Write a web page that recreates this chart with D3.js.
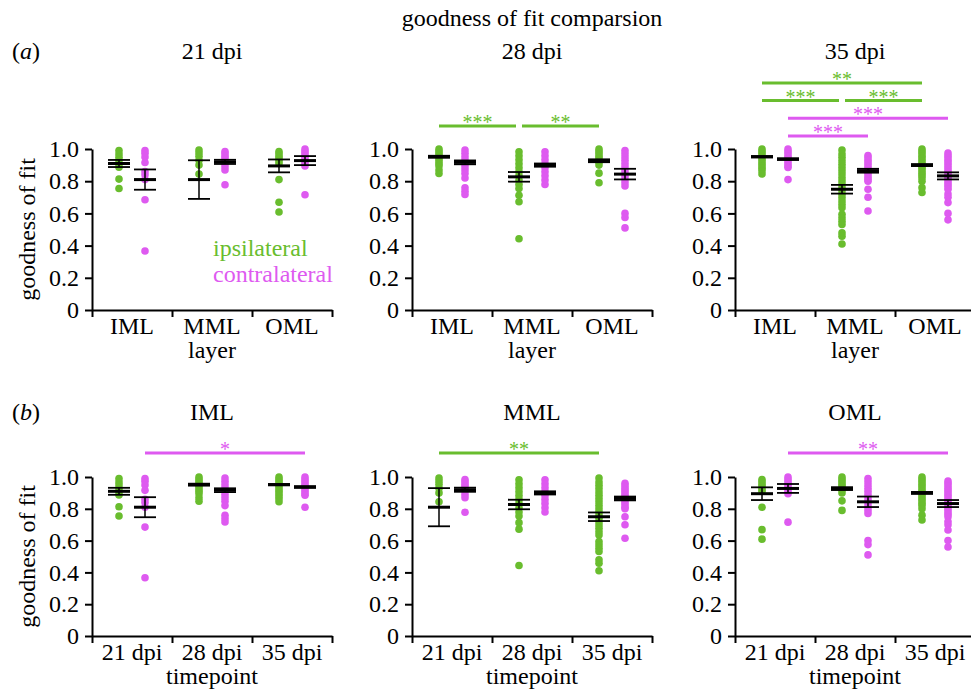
<!DOCTYPE html>
<html>
<head>
<meta charset="utf-8">
<script src="https://cdn.jsdelivr.net/npm/d3@7"></script>
<style>
	body { margin: 0; background: #fff; }
	svg { display: block; }
	svg text { font-family: 'Times New Roman', 'Liberation Serif', 'DejaVu Serif', Times, serif; }
	.axis path, .axis line { stroke: #000; stroke-width: 2; }
	.axis text { font-size: 24px; fill: #000; }
</style>
</head>
<body>
<svg id="chart" width="971" height="692"></svg>
<script>
const layers = ['IML', 'MML', 'OML']
const timepoints = ['21 dpi', '28 dpi', '35 dpi']
const yTicks = [0, 0.2, 0.4, 0.6, 0.8, 1.0]

// means and SEM, indexed [timepoint][layer]
const ipsiMean = [[0.91, 0.81, 0.895], [0.952, 0.827, 0.927], [0.952, 0.75, 0.90]]
const ipsiSem = [[0.022, 0.12, 0.04], [0.006, 0.03, 0.009], [0.004, 0.027, 0.006]]
const contraMean = [[0.81, 0.92, 0.928], [0.917, 0.90, 0.844], [0.937, 0.865, 0.833]]
const contraSem = [[0.063, 0.013, 0.028], [0.012, 0.01, 0.033], [0.005, 0.012, 0.022]]

// individual fits, indexed [timepoint][layer]
const ipsiPoints = [
	[
		[0.99, 0.969, 0.949, 0.928, 0.907, 0.887, 0.813, 0.755],
		[0.994, 0.975, 0.955, 0.93, 0.90, 0.844],
		[0.984, 0.97, 0.955, 0.94, 0.925, 0.91, 0.81, 0.669, 0.609]
	],
	[
		[1.0, 0.985, 0.97, 0.955, 0.94, 0.925, 0.91, 0.895, 0.87, 0.848],
		[0.983, 0.958, 0.933, 0.908, 0.884, 0.859, 0.834, 0.807, 0.78, 0.755, 0.713, 0.672, 0.443],
		[1.0, 0.985, 0.97, 0.955, 0.94, 0.92, 0.90, 0.85, 0.79]
	],
	[
		[1.0, 0.985, 0.97, 0.955, 0.94, 0.925, 0.91, 0.895, 0.88, 0.865, 0.845],
		[0.994, 0.969, 0.948, 0.927, 0.906, 0.885, 0.865, 0.844, 0.823, 0.802, 0.781, 0.76, 0.74,
			0.719, 0.698, 0.677, 0.656, 0.635, 0.594, 0.573, 0.552, 0.531, 0.479, 0.458, 0.41],
		[1.0, 0.985, 0.97, 0.955, 0.94, 0.925, 0.91, 0.895, 0.88, 0.865, 0.85, 0.835, 0.82, 0.80, 0.76, 0.73]
	]
]
const contraPoints = [
	[
		[0.99, 0.973, 0.95, 0.916, 0.86, 0.84, 0.81, 0.685, 0.366],
		[0.984, 0.97, 0.955, 0.94, 0.925, 0.91, 0.89, 0.87, 0.778],
		[1.0, 0.985, 0.97, 0.955, 0.94, 0.925, 0.91, 0.895, 0.716]
	],
	[
		[0.994, 0.973, 0.952, 0.931, 0.91, 0.89, 0.869, 0.848, 0.82, 0.759, 0.738, 0.717],
		[0.983, 0.958, 0.933, 0.908, 0.884, 0.859, 0.834, 0.807, 0.78],
		[0.99, 0.97, 0.95, 0.93, 0.91, 0.89, 0.87, 0.85, 0.83, 0.81, 0.79, 0.77, 0.60, 0.575, 0.51]
	],
	[
		[1.0, 0.985, 0.97, 0.955, 0.94, 0.925, 0.91, 0.895, 0.885, 0.81],
		[0.96, 0.945, 0.93, 0.915, 0.90, 0.885, 0.87, 0.855, 0.84, 0.825, 0.81, 0.80, 0.75, 0.70, 0.615],
		[0.975, 0.96, 0.945, 0.93, 0.915, 0.90, 0.885, 0.87, 0.855, 0.84, 0.825, 0.81, 0.795, 0.78,
			0.765, 0.75, 0.72, 0.70, 0.667, 0.60, 0.56]
	]
]

// significance brackets
const sigByLayer = [
	{ panel: '28 dpi', side: 'ipsi', from: 'IML', to: 'MML', label: '***', level: 0 },
	{ panel: '28 dpi', side: 'ipsi', from: 'MML', to: 'OML', label: '**', level: 0 },
	{ panel: '35 dpi', side: 'contra', from: 'IML', to: 'MML', label: '***', level: 0 },
	{ panel: '35 dpi', side: 'contra', from: 'IML', to: 'OML', label: '***', level: 1 },
	{ panel: '35 dpi', side: 'ipsi', from: 'IML', to: 'MML', label: '***', level: 2 },
	{ panel: '35 dpi', side: 'ipsi', from: 'MML', to: 'OML', label: '***', level: 2 },
	{ panel: '35 dpi', side: 'ipsi', from: 'IML', to: 'OML', label: '**', level: 3 }
]
const sigByTime = [
	{ panel: 'IML', side: 'contra', from: '21 dpi', to: '35 dpi', label: '*', level: 0 },
	{ panel: 'MML', side: 'ipsi', from: '21 dpi', to: '35 dpi', label: '**', level: 0 },
	{ panel: 'OML', side: 'contra', from: '21 dpi', to: '35 dpi', label: '**', level: 0 }
]

const colors = { ipsi: '#69bd2e', contra: '#de5af0' }
const sideOffset = { ipsi: -13, contra: 13 }
const panelX = [92, 412, 735]
const panelW = 240
const rowA = { top: 149, bottom: 310 }
const rowB = { top: 477, bottom: 636 }
const fs = 24

const svg = d3.select('#chart')

function group(ti, li) {
	return {
		ipsi: { mean: ipsiMean[ti][li], sem: ipsiSem[ti][li], pts: ipsiPoints[ti][li] },
		contra: { mean: contraMean[ti][li], sem: contraSem[ti][li], pts: contraPoints[ti][li] }
	}
}

function drawPanel(opt) {
	const g = svg.append('g')
	const y = d3.scaleLinear().domain([0, 1]).range([opt.row.bottom, opt.row.top])
	const band = d3.scaleBand().domain(opt.cats).range([opt.x0, opt.x0 + panelW])
	const edges = d3.scaleLinear().domain([0, 3]).range([opt.x0, opt.x0 + panelW])
	const cx = (c, side) => band(c) + band.bandwidth() / 2 + sideOffset[side]

	g.append('g')
		.attr('class', 'axis')
		.attr('transform', `translate(${opt.x0},0)`)
		.call(d3.axisLeft(y).tickValues(yTicks).tickSize(7).tickSizeOuter(0).tickPadding(6)
			.tickFormat(d => d === 0 ? '0' : d3.format('.1f')(d)))
		.call(a => a.selectAll('text').attr('font-family', null))

	g.append('g')
		.attr('class', 'axis')
		.attr('transform', `translate(0,${opt.row.bottom})`)
		.call(d3.axisBottom(edges).tickValues([0, 1, 2, 3]).tickSize(7).tickSizeOuter(0).tickFormat(''))

	g.selectAll('.cat')
		.data(opt.cats)
		.enter()
		.append('text')
		.attr('x', d => band(d) + band.bandwidth() / 2)
		.attr('y', opt.row.bottom + 24)
		.attr('text-anchor', 'middle')
		.attr('font-size', fs)
		.text(d => d)

	g.append('text')
		.attr('x', opt.x0 + panelW / 2)
		.attr('y', opt.row.bottom + 48)
		.attr('text-anchor', 'middle')
		.attr('font-size', fs)
		.text(opt.axisTitle)

	g.append('text')
		.attr('x', opt.x0 + panelW / 2)
		.attr('y', opt.titleY)
		.attr('text-anchor', 'middle')
		.attr('font-size', fs)
		.text(opt.title)

	opt.cats.forEach(c => {
		const grp = opt.get(c)
		;['ipsi', 'contra'].forEach(side => {
			const s = grp[side]
			const x = cx(c, side)
			g.append('g')
				.selectAll('circle')
				.data(s.pts)
				.enter()
				.append('circle')
				.attr('cx', x)
				.attr('cy', d => y(d))
				.attr('r', 3.8)
				.attr('fill', colors[side])

			const hw = 11
			g.append('line')
				.attr('x1', x).attr('x2', x)
				.attr('y1', y(s.mean + s.sem)).attr('y2', y(s.mean - s.sem))
				.attr('stroke', '#000').attr('stroke-width', 1.5)
			;[s.mean + s.sem, s.mean - s.sem].forEach(v => {
				g.append('line')
					.attr('x1', x - hw).attr('x2', x + hw)
					.attr('y1', y(v)).attr('y2', y(v))
					.attr('stroke', '#000').attr('stroke-width', 1.8)
			})
			g.append('line')
				.attr('x1', x - hw).attr('x2', x + hw)
				.attr('y1', y(s.mean)).attr('y2', y(s.mean))
				.attr('stroke', '#000').attr('stroke-width', 3)
		})
	})

	// significance bars
	const sigs = opt.sigs
	sigs.forEach(d => {
		const barY = opt.row.top - (opt.sigBase + d.level * 17.7)
		let x1 = cx(d.from, d.side)
		let x2 = cx(d.to, d.side)
		const shared = sigs.filter(o => o !== d && o.level === d.level && o.side === d.side)
		if (shared.some(o => o.to === d.from)) x1 += 3
		if (shared.some(o => o.from === d.to)) x2 -= 3
		g.append('line')
			.attr('x1', x1).attr('x2', x2)
			.attr('y1', barY).attr('y2', barY)
			.attr('stroke', colors[d.side]).attr('stroke-width', 3)
		g.append('text')
			.attr('x', (x1 + x2) / 2)
			.attr('y', barY + 3)
			.attr('text-anchor', 'middle')
			.attr('font-size', 20)
			.attr('fill', colors[d.side])
			.text(d.label)
	})
}

timepoints.forEach((t, ti) => {
	drawPanel({
		x0: panelX[ti], row: rowA, cats: layers, title: t, titleY: 59, axisTitle: 'layer',
		get: c => group(ti, layers.indexOf(c)),
		sigs: sigByLayer.filter(s => s.panel === t),
		sigBase: ti === 2 ? 13 : 23
	})
})

layers.forEach((l, li) => {
	drawPanel({
		x0: panelX[li], row: rowB, cats: timepoints, title: l, titleY: 420, axisTitle: 'timepoint',
		get: c => group(timepoints.indexOf(c), li),
		sigs: sigByTime.filter(s => s.panel === l),
		sigBase: 24
	})
})

svg.append('text')
	.attr('x', 532).attr('y', 26)
	.attr('text-anchor', 'middle')
	.attr('font-size', fs)
	.text('goodness of fit comparsion')

const tags = [{ t: 'a', y: 59 }, { t: 'b', y: 420 }]
tags.forEach(d => {
	const txt = svg.append('text').attr('x', 12).attr('y', d.y).attr('font-size', fs)
	txt.append('tspan').text('(')
	txt.append('tspan').attr('font-style', 'italic').text(d.t)
	txt.append('tspan').text(')')
})

;[ (rowA.top + rowA.bottom) / 2, (rowB.top + rowB.bottom) / 2 ].forEach(cy => {
	svg.append('text')
		.attr('transform', `translate(35,${cy}) rotate(-90)`)
		.attr('text-anchor', 'middle')
		.attr('font-size', fs)
		.text('goodness of fit')
})

svg.append('text')
	.attr('x', 213).attr('y', 256)
	.attr('font-size', fs)
	.attr('fill', colors.ipsi)
	.text('ipsilateral')
svg.append('text')
	.attr('x', 213).attr('y', 282)
	.attr('font-size', fs)
	.attr('fill', colors.contra)
	.text('contralateral')
</script>
</body>
</html>
